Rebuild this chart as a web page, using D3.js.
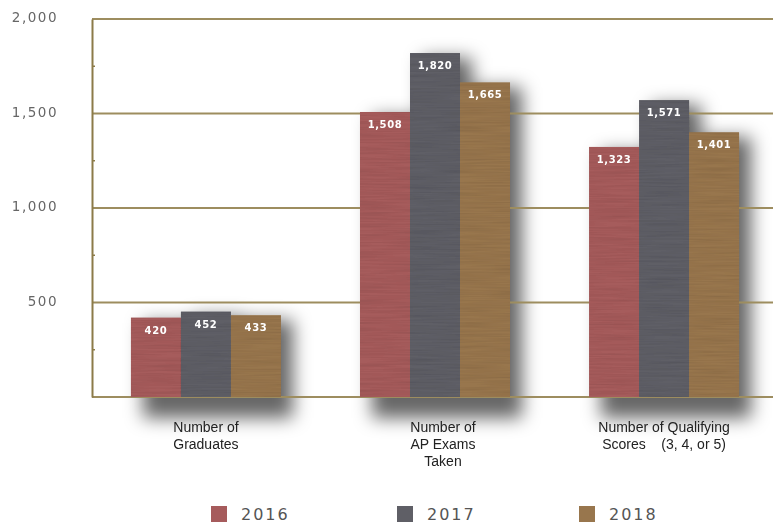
<!DOCTYPE html>
<html>
<head>
<meta charset="utf-8">
<script src="https://cdn.jsdelivr.net/npm/d3@7"></script>
<style>
  body { margin: 0; background: #fff; }
  svg { display: block; }
</style>
</head>
<body>
<div id="chart"></div>
<script>
// data
const categories = ['Graduates', 'AP Exams', 'Qualifying'];
const catLabels = [
    ['Number of', 'Graduates'],
    ['Number of', 'AP Exams', 'Taken'],
    ['Number of Qualifying', 'Scores\u00a0\u00a0\u00a0\u00a0(3, 4, or 5)']
];
const years = ['2016', '2017', '2018'];
const values2016 = [420, 1508, 1323];
const values2017 = [452, 1820, 1571];
const values2018 = [433, 1665, 1401];
const yTicks = [500, 1000, 1500, 2000];
const yMinorTicks = [250, 750, 1250, 1750];
const colors = ['#a65b5c', '#5f5f66', '#98764d'];

const seriesVals = [values2016, values2017, values2018];
const data = [];
categories.forEach((c, i) => {
    years.forEach((y, j) => data.push({cat: c, year: y, value: seriesVals[j][i], idx: j}));
});

const W = 773, H = 523;
const margin = {left: 92, right: 0, top: 19, bottom: 126};
const width = W - margin.left - margin.right;
const height = H - margin.top - margin.bottom;

const svg = d3.select('#chart').append('svg')
    .attr('width', W).attr('height', H);

const defs = svg.append('defs');
const sh = defs.append('filter').attr('id', 'shadow')
    .attr('x', '-20%').attr('y', '-20%').attr('width', '160%').attr('height', '160%');
sh.append('feGaussianBlur').attr('stdDeviation', 9);

// streaky texture
const tex = defs.append('filter').attr('id', 'tex')
    .attr('x', 0).attr('y', 0).attr('width', '100%').attr('height', '100%');
tex.append('feTurbulence').attr('type', 'fractalNoise')
    .attr('baseFrequency', '0.02 0.6').attr('numOctaves', 2).attr('seed', 4).attr('result', 'n');
tex.append('feColorMatrix').attr('in', 'n').attr('type', 'matrix')
    .attr('values', '0 0 0 0 0  0 0 0 0 0  0 0 0 0 0  0 0 0 0.3 -0.1').attr('result', 'a');
tex.append('feComposite').attr('in', 'a').attr('in2', 'SourceGraphic').attr('operator', 'in').attr('result', 'm');
const mg = tex.append('feMerge');
mg.append('feMergeNode').attr('in', 'SourceGraphic');
mg.append('feMergeNode').attr('in', 'm');

const g = svg.append('g').attr('transform', `translate(${margin.left},${margin.top})`);

// scales
const yScale = d3.scaleLinear().domain([0, 2000]).range([height, 0]);
const x0 = d3.scaleBand().domain(categories).range([0, 686]).paddingInner(0.345).paddingOuter(0.17);
const x1 = d3.scaleBand().domain(years).range([0, x0.bandwidth()]);

// shadows
g.append('g').attr('filter', 'url(#shadow)')
    .selectAll('rect').data(data).enter().append('rect')
    .attr('x', d => x0(d.cat) + x1(d.year) + 12)
    .attr('y', d => yScale(d.value) + 5)
    .attr('width', x1.bandwidth())
    .attr('height', d => height - yScale(d.value) + 16)
    .attr('fill', '#000').attr('opacity', 0.6);

// grid lines
g.append('g').selectAll('line').data([0].concat(yTicks)).enter().append('line')
    .attr('x1', 0).attr('x2', width)
    .attr('y1', d => yScale(d)).attr('y2', d => yScale(d))
    .attr('stroke', '#9d8d5f').attr('stroke-width', 2);

// y axis
const yAxis = d3.axisLeft(yScale).tickValues(yTicks).tickSize(0).tickFormat(d3.format(','));
const yAxisG = g.append('g').attr('class', 'axis y-axis').call(yAxis);
yAxisG.select('.domain').attr('stroke', '#8c7b48').attr('stroke-width', 2);
yAxisG.selectAll('text')
    .attr('x', -34).attr('dy', '0.2em')
    .attr('fill', '#666').style('font-family', 'DejaVu Sans, sans-serif')
    .style('font-size', '13.5px').style('letter-spacing', '1.5px');
g.append('g').selectAll('line').data(yMinorTicks).enter().append('line')
    .attr('x1', 0).attr('x2', 3)
    .attr('y1', d => yScale(d)).attr('y2', d => yScale(d))
    .attr('stroke', '#8c7b48').attr('stroke-width', 1.5);

// bars
g.append('g').selectAll('rect').data(data).enter().append('rect')
    .attr('x', d => x0(d.cat) + x1(d.year))
    .attr('y', d => yScale(d.value))
    .attr('width', x1.bandwidth())
    .attr('height', d => height - yScale(d.value))
    .attr('fill', d => colors[d.idx])
    .attr('filter', 'url(#tex)');

// value labels
g.append('g').selectAll('text').data(data).enter().append('text')
    .attr('x', d => x0(d.cat) + x1(d.year) + x1.bandwidth() / 2)
    .attr('y', d => yScale(d.value) + 16)
    .attr('text-anchor', 'middle')
    .attr('fill', '#fff')
    .style('font-family', 'DejaVu Sans, sans-serif')
    .style('font-size', '10px').style('font-weight', 'bold').style('letter-spacing', '0.6px')
    .text(d => d3.format(',')(d.value));

// category labels
const catG = g.append('g').selectAll('text').data(categories).enter().append('text')
    .attr('x', d => x0(d) + x0.bandwidth() / 2)
    .attr('y', height + 35)
    .attr('text-anchor', 'middle')
    .attr('fill', '#222')
    .style('font-family', 'Liberation Sans, Arial, sans-serif')
    .style('font-size', '14px');
catG.each(function(d, i) {
    const cx = x0(d) + x0.bandwidth() / 2 + (i === 1 ? 8 : 0);
    d3.select(this).selectAll('tspan').data(catLabels[i]).enter().append('tspan')
        .attr('x', cx)
        .attr('dy', (t, k) => k === 0 ? 0 : 17)
        .text(t => t);
});

// legend
const legendX = [211, 397, 579];
const leg = svg.append('g').selectAll('g').data(years).enter().append('g')
    .attr('transform', (d, i) => `translate(${legendX[i]}, 506)`);
leg.append('rect').attr('width', 16).attr('height', 16)
    .attr('fill', (d, i) => colors[i]);
leg.append('text').attr('x', 30).attr('y', 14)
    .attr('fill', '#555')
    .style('font-family', 'DejaVu Sans, sans-serif')
    .style('font-size', '16px').style('letter-spacing', '2px')
    .text(d => d);
</script>
</body>
</html>
